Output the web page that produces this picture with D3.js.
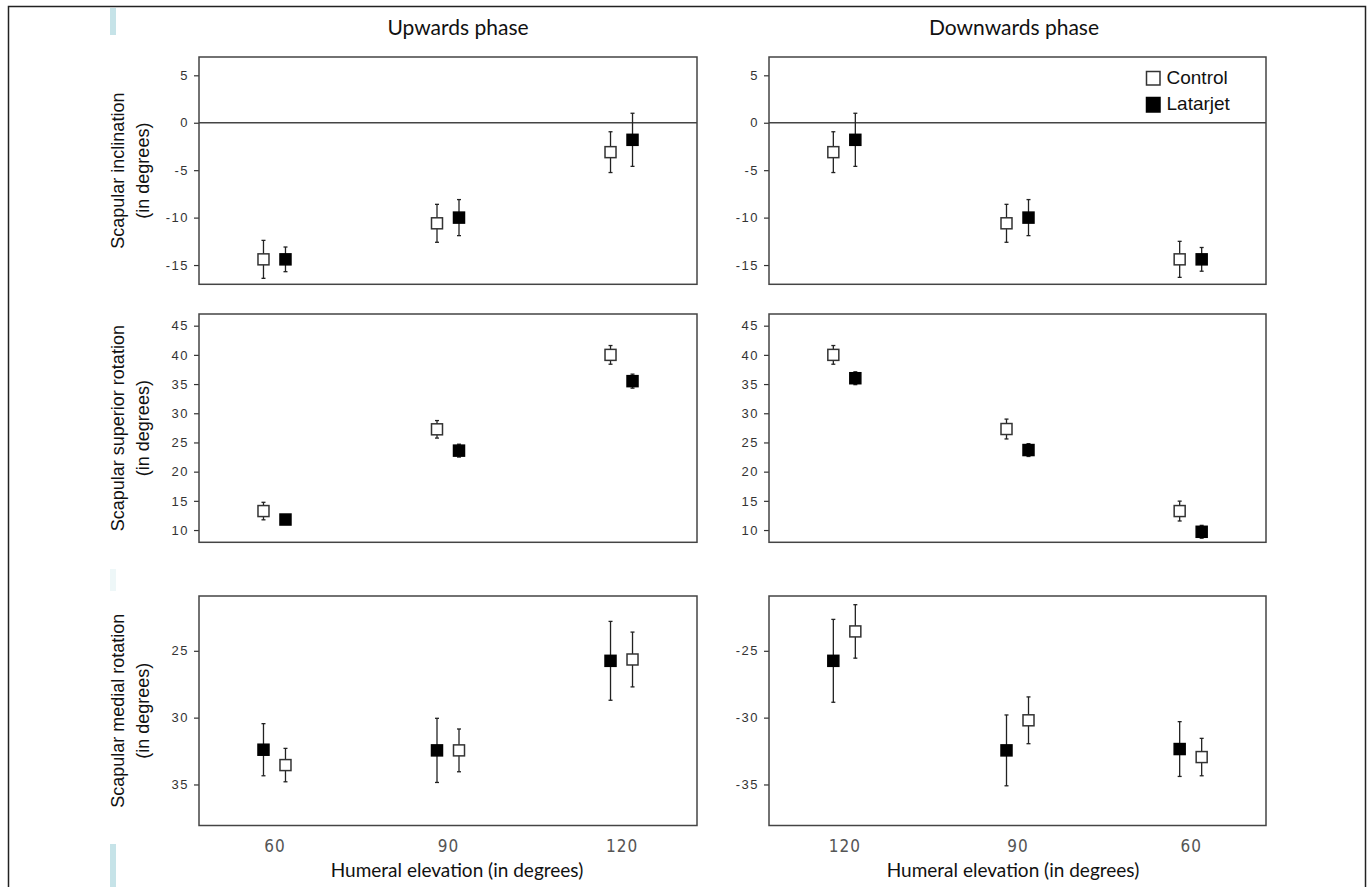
<!DOCTYPE html>
<html>
<head>
<meta charset="utf-8">
<script src="https://cdn.jsdelivr.net/npm/d3@7"></script>
<style>
body { margin: 0; background: #fff; }
svg { display: block; }
</style>
</head>
<body>
<script>
var w = 1370;
var h = 887;

// categories (humeral elevation), order differs per phase
var upCats = ["60", "90", "120"];
var downCats = ["120", "90", "60"];
var seriesNames = ["Control", "Latarjet"];

// scapular inclination
var incUpControl = [-14.4, -10.6, -3.1];
var incUpControlErr = [2.0, 2.0, 2.15];
var incUpLatarjet = [-14.4, -10.0, -1.8];
var incUpLatarjetErr = [1.3, 1.9, 2.8];
var incDownControl = [-3.1, -10.6, -14.4];
var incDownControlErr = [2.15, 2.0, 1.9];
var incDownLatarjet = [-1.8, -10.0, -14.4];
var incDownLatarjetErr = [2.8, 1.9, 1.25];

// scapular superior rotation
var supUpControl = [13.25, 27.25, 40.0];
var supUpControlErr = [1.5, 1.5, 1.6];
var supUpLatarjet = [11.8, 23.6, 35.5];
var supUpLatarjetErr = [0.5, 1.1, 1.2];
var supDownControl = [40.0, 27.3, 13.25];
var supDownControlErr = [1.6, 1.7, 1.7];
var supDownLatarjet = [36.0, 23.7, 9.7];
var supDownLatarjetErr = [1.1, 1.1, 1.1];

// scapular medial rotation (upwards axis printed without minus, runs downwards)
var medUpLatarjet = [32.4, 32.45, 25.75];
var medUpLatarjetErr = [1.95, 2.4, 2.95];
var medUpControl = [33.55, 32.45, 25.65];
var medUpControlErr = [1.25, 1.6, 2.05];
var medDownLatarjet = [-25.75, -32.45, -32.35];
var medDownLatarjetErr = [3.1, 2.65, 2.05];
var medDownControl = [-23.55, -30.2, -32.95];
var medDownControlErr = [2.0, 1.75, 1.4];

var incTicks = [5, 0, -5, -10, -15];
var supTicks = [10, 15, 20, 25, 30, 35, 40, 45];
var medUpTicks = [25, 30, 35];
var medDownTicks = [-25, -30, -35];

var colTitles = ["Upwards phase", "Downwards phase"];
var rowTitles = [
  ["Scapular inclination", "(in degrees)"],
  ["Scapular superior rotation", "(in degrees)"],
  ["Scapular medial rotation", "(in degrees)"]
];
var xTitle = "Humeral elevation (in degrees)";

var cols = [
  {x0: 199, x1: 697, cats: upCats, titleX: 458, xTitleX: 457},
  {x0: 769, x1: 1266, cats: downCats, titleX: 1014, xTitleX: 1013}
];
var rows = [
  {y0: 57, y1: 284.3},
  {y0: 314, y1: 542.3},
  {y0: 596, y1: 825.5}
];

function ser(name, v, e) {
  return {name: name, v: v, e: e};
}

var panels = [
  {c: 0, r: 0, dom: [-17.03, 6.93], ticks: incTicks, zero: true,
   series: [ser("Control", incUpControl, incUpControlErr), ser("Latarjet", incUpLatarjet, incUpLatarjetErr)]},
  {c: 1, r: 0, dom: [-17.03, 6.93], ticks: incTicks, zero: true, legend: true,
   series: [ser("Control", incDownControl, incDownControlErr), ser("Latarjet", incDownLatarjet, incDownLatarjetErr)]},
  {c: 0, r: 1, dom: [7.9, 47], ticks: supTicks,
   series: [ser("Control", supUpControl, supUpControlErr), ser("Latarjet", supUpLatarjet, supUpLatarjetErr)]},
  {c: 1, r: 1, dom: [7.9, 47], ticks: supTicks,
   series: [ser("Control", supDownControl, supDownControlErr), ser("Latarjet", supDownLatarjet, supDownLatarjetErr)]},
  {c: 0, r: 2, dom: [38.07, 20.9], ticks: medUpTicks, xaxis: true,
   series: [ser("Latarjet", medUpLatarjet, medUpLatarjetErr), ser("Control", medUpControl, medUpControlErr)]},
  {c: 1, r: 2, dom: [-38.07, -20.9], ticks: medDownTicks, xaxis: true,
   series: [ser("Latarjet", medDownLatarjet, medDownLatarjetErr), ser("Control", medDownControl, medDownControlErr)]}
];

var offsets = [-11, 11];
var box = 11;

var svg = d3.select("body").append("svg")
  .attr("width", w)
  .attr("height", h);

// page decoration
svg.append("rect")
  .attr("x", 8.5).attr("y", 6.5)
  .attr("width", 1357).attr("height", 920)
  .attr("fill", "none")
  .attr("stroke", "#222")
  .attr("stroke-width", 1.5);

svg.append("rect").attr("x", 110).attr("y", 8).attr("width", 6).attr("height", 27).attr("fill", "#c6e3e8");
svg.append("rect").attr("x", 110).attr("y", 569).attr("width", 6).attr("height", 22).attr("fill", "#eef7f8");
svg.append("rect").attr("x", 110).attr("y", 844).attr("width", 6).attr("height", 43).attr("fill", "#c6e3e8");

cols.forEach(function(col, i) {
  svg.append("text")
    .attr("x", col.titleX)
    .attr("y", 34.5)
    .attr("text-anchor", "middle")
    .style("font-family", "Lato, 'Open Sans', sans-serif")
    .style("font-size", "21px")
    .attr("fill", "#111")
    .text(colTitles[i]);
});

rows.forEach(function(row, i) {
  var cy = (row.y0 + row.y1) / 2;
  var t = svg.append("text")
    .attr("transform", "translate(124," + cy + ") rotate(-90)")
    .attr("text-anchor", "middle")
    .style("font-family", "'Liberation Sans', Arial, sans-serif")
    .style("font-size", "18px")
    .attr("fill", "#111");
  t.append("tspan").attr("x", 0).attr("y", 0).text(rowTitles[i][0]);
  t.append("tspan").attr("x", 0).attr("y", 24.5).text(rowTitles[i][1]);
});

panels.forEach(function(p) {
  var col = cols[p.c];
  var row = rows[p.r];

  var x = d3.scalePoint()
    .domain(col.cats)
    .range([col.x0, col.x1])
    .padding(0.435);

  var y = d3.scaleLinear()
    .domain(p.dom)
    .range([row.y1, row.y0]);

  var g = svg.append("g");

  var yAxis = g.append("g")
    .attr("transform", "translate(" + col.x0 + ",0)")
    .call(d3.axisLeft(y)
      .tickValues(p.ticks)
      .tickSize(5)
      .tickPadding(5)
      .tickFormat(function(d) { return String(d); }));
  yAxis.select(".domain").remove();
  yAxis.selectAll("line").attr("stroke", "#333").attr("stroke-width", 1.2);
  yAxis.selectAll("text")
    .style("font-family", "'Liberation Sans', Arial, sans-serif")
    .style("font-size", "13px")
    .style("letter-spacing", "1.5px")
    .attr("fill", "#333");

  if (p.xaxis) {
    var xAxis = g.append("g")
      .attr("transform", "translate(0," + row.y1 + ")")
      .call(d3.axisBottom(x).tickSize(0).tickPadding(14));
    xAxis.select(".domain").remove();
    xAxis.selectAll("text")
      .style("font-family", "'Liberation Sans Narrow', 'DejaVu Sans Condensed', sans-serif")
      .style("font-size", "17px")
      .style("letter-spacing", "1px")
      .attr("fill", "#555");

    svg.append("text")
      .attr("x", col.xTitleX)
      .attr("y", 876.5)
      .attr("text-anchor", "middle")
      .style("font-family", "Lato, 'Open Sans', sans-serif")
      .style("font-size", "19px")
      .attr("fill", "#111")
      .text(xTitle);
  }

  if (p.zero) {
    g.append("line")
      .attr("x1", col.x0).attr("x2", col.x1)
      .attr("y1", y(0)).attr("y2", y(0))
      .attr("stroke", "#444")
      .attr("stroke-width", 1.5);
  }

  p.series.forEach(function(s, si) {
    var filled = s.name == "Latarjet";
    var pts = g.selectAll(".pt" + si)
      .data(col.cats.map(function(c, i) { return {c: c, v: s.v[i], e: s.e[i]}; }))
      .enter()
      .append("g")
      .attr("class", "pt" + si)
      .attr("transform", function(d) { return "translate(" + (x(d.c) + offsets[si]) + ",0)"; });

    pts.append("line")
      .attr("x1", 0).attr("x2", 0)
      .attr("y1", function(d) { return y(d.v - d.e); })
      .attr("y2", function(d) { return y(d.v + d.e); })
      .attr("stroke", "#222")
      .attr("stroke-width", 1.3);

    [-1, 1].forEach(function(k) {
      pts.append("line")
        .attr("x1", -2).attr("x2", 2)
        .attr("y1", function(d) { return y(d.v + k * d.e); })
        .attr("y2", function(d) { return y(d.v + k * d.e); })
        .attr("stroke", "#222")
        .attr("stroke-width", 1.3);
    });

    pts.append("rect")
      .attr("x", -box / 2)
      .attr("y", function(d) { return y(d.v) - box / 2; })
      .attr("width", box)
      .attr("height", box)
      .attr("fill", filled ? "#000" : "#fff")
      .attr("stroke", filled ? "#000" : "#333")
      .attr("stroke-width", 1.5);
  });

  // panel frame
  g.append("rect")
    .attr("x", col.x0).attr("y", row.y0)
    .attr("width", col.x1 - col.x0)
    .attr("height", row.y1 - row.y0)
    .attr("fill", "none")
    .attr("stroke", "#444")
    .attr("stroke-width", 1.5);

  if (p.legend) {
    var lg = g.append("g");
    seriesNames.forEach(function(n, i) {
      lg.append("rect")
        .attr("x", 1146.5)
        .attr("y", 71.5 + i * 26)
        .attr("width", 13.5)
        .attr("height", 13.5 + i)
        .attr("fill", n == "Latarjet" ? "#000" : "#fff")
        .attr("stroke", n == "Latarjet" ? "#000" : "#333")
        .attr("stroke-width", 1.5);
      lg.append("text")
        .attr("x", 1166.5)
        .attr("y", 84 + i * 26)
        .style("font-family", "'Liberation Sans', Arial, sans-serif")
        .style("font-size", "19px")
        .attr("fill", "#111")
        .text(n);
    });
  }
});
</script>
</body>
</html>
